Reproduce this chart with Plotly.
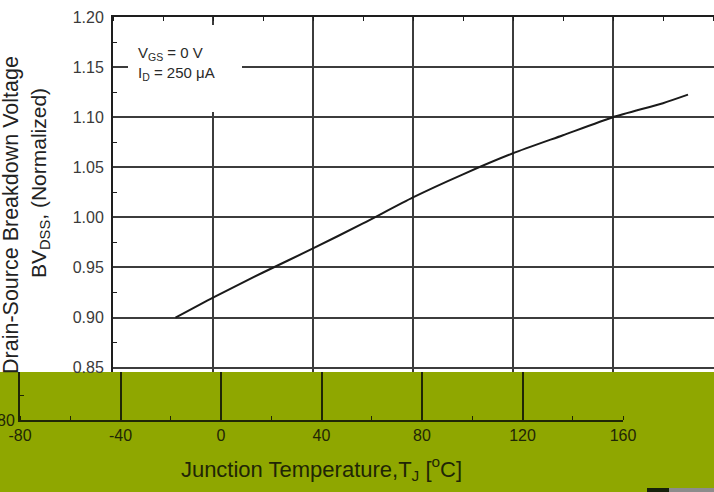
import plotly.graph_objects as go

# ---- data ----
temp_c = [-55, -40, -20, 0, 20, 40, 60, 80, 100, 120, 140, 150]
bv_norm = [0.900, 0.920, 0.945, 0.969, 0.994, 1.020, 1.043, 1.064, 1.082, 1.100, 1.114, 1.1225]

x_ticks = [-80, -40, 0, 40, 80, 120, 160]
x_tick_text = ["-80", "-40", "0", "40", "80", "120", "160"]
y_ticks = [0.85, 0.90, 0.95, 1.00, 1.05, 1.10, 1.15, 1.20]
y_tick_text = ["0.85", "0.90", "0.95", "1.00", "1.05", "1.10", "1.15", "1.20"]

W, H = 714, 492
FONT = "Liberation Sans, Arial, sans-serif"
GRID = "#3c3c3c"
AXIS = "#1e1e1e"
OLIVE = "#8fa700"
DARK_ON_OLIVE = "#1f2606"

def px_x(p):
    return p / W

def px_y(p):
    return (H - p) / H

fig = go.Figure()

fig.add_trace(go.Scatter(
    x=temp_c, y=bv_norm, mode="lines",
    line=dict(color="#1a1a1a", width=2, shape="spline", smoothing=0.6),
    showlegend=False, hoverinfo="skip",
))
# lower (shifted) band subplot — axes only
fig.add_trace(go.Scatter(x=[], y=[], xaxis="x2", yaxis="y2", showlegend=False))

fig.update_layout(
    width=W, height=H, autosize=False,
    margin=dict(l=0, r=0, t=0, b=0, pad=0, autoexpand=False),
    paper_bgcolor="white", plot_bgcolor="white",
    font=dict(family=FONT, color="#333"),
    showlegend=False,
    xaxis=dict(
        domain=[px_x(113), 1.0], range=[-80, 160.4], anchor="y", side="top",
        tickvals=x_ticks, showticklabels=False, ticks="", automargin=False,
        showgrid=True, gridcolor=GRID, gridwidth=1.5,
        showline=True, linecolor=AXIS, linewidth=2,
        minor=dict(ticks="inside", ticklen=4, tick0=-80, dtick=20,
                   tickcolor=AXIS, showgrid=False),
        zeroline=False, fixedrange=True,
    ),
    yaxis=dict(
        domain=[px_y(372), px_y(17)], range=[0.8457, 1.20], anchor="x",
        tickvals=y_ticks, ticktext=y_tick_text, ticks="", automargin=False,
        tickfont=dict(size=16, color="#3a3a3a", family=FONT),
        ticklabelstandoff=4,
        showgrid=True, gridcolor=GRID, gridwidth=1.5,
        showline=True, linecolor=AXIS, linewidth=2,
        minor=dict(ticks="inside", ticklen=4, tick0=0.825, dtick=0.05,
                   tickcolor=AXIS, showgrid=False),
        zeroline=False, fixedrange=True,
    ),
    xaxis2=dict(
        domain=[px_x(20), px_x(623)], range=[-80, 160], anchor="y2",
        tickvals=x_ticks, ticktext=x_tick_text, ticks="", automargin=False,
        tickfont=dict(size=16, color=DARK_ON_OLIVE, family=FONT),
        showgrid=True, gridcolor=DARK_ON_OLIVE, gridwidth=2,
        showline=True, linecolor=DARK_ON_OLIVE, linewidth=2,
        minor=dict(ticks="inside", ticklen=4, tick0=-80, dtick=20,
                   tickcolor=DARK_ON_OLIVE, showgrid=False),
        zeroline=False, fixedrange=True,
        title=dict(text="Junction Temperature,T<sub>J</sub> [<sup>o</sup>C]",
                   font=dict(size=22, color=DARK_ON_OLIVE, family=FONT), standoff=18),
    ),
    yaxis2=dict(
        domain=[px_y(420), px_y(372)], range=[0.80, 0.848], anchor="x2",
        tickvals=[0.80], ticktext=["0.80"], ticks="", automargin=False,
        tickfont=dict(size=16, color=DARK_ON_OLIVE, family=FONT),
        ticklabelstandoff=0,
        showgrid=False,
        showline=True, linecolor=DARK_ON_OLIVE, linewidth=2,
        minor=dict(ticks="inside", ticklen=4, tick0=0.825, dtick=0.05,
                   tickcolor=DARK_ON_OLIVE, showgrid=False),
        zeroline=False, fixedrange=True,
    ),
    shapes=[
        # olive band of the damaged lower part of the picture
        dict(type="rect", xref="paper", yref="paper", x0=0, x1=1,
             y0=0, y1=px_y(372), fillcolor=OLIVE, line=dict(width=0), layer="below"),
        # small patches at the bottom right
        dict(type="rect", xref="paper", yref="paper", x0=px_x(647), x1=px_x(669),
             y0=0, y1=px_y(488), fillcolor="#16200a", line=dict(width=0), layer="above"),
        dict(type="rect", xref="paper", yref="paper", x0=px_x(669), x1=1,
             y0=0, y1=px_y(488), fillcolor="#8c8c8c", line=dict(width=0), layer="above"),
        # white box behind the condition text
        dict(type="rect", xref="paper", yref="paper", x0=px_x(128), x1=px_x(242),
             y0=px_y(112), y1=px_y(25), fillcolor="white", line=dict(width=0), layer="above"),
    ],
    annotations=[
        dict(text="V<sub>GS</sub> = 0 V<br>I<sub>D</sub> = 250 μA",
             xref="paper", yref="paper", x=px_x(136), y=px_y(63),
             xanchor="left", yanchor="middle", align="left", showarrow=False,
             font=dict(size=15, color="#2a2a2a", family=FONT)),
        dict(text="Drain-Source Breakdown Voltage",
             xref="paper", yref="paper", x=px_x(11), y=px_y(215),
             xanchor="center", yanchor="middle", textangle=-90, showarrow=False,
             font=dict(size=21.5, color="#222", family=FONT)),
        dict(text="BV<sub>DSS</sub>, (Normalized)",
             xref="paper", yref="paper", x=px_x(40), y=px_y(183),
             xanchor="center", yanchor="middle", textangle=-90, showarrow=False,
             font=dict(size=21, color="#222", family=FONT)),
    ],
)

fig.write_html("out.html", config={"displayModeBar": False})
